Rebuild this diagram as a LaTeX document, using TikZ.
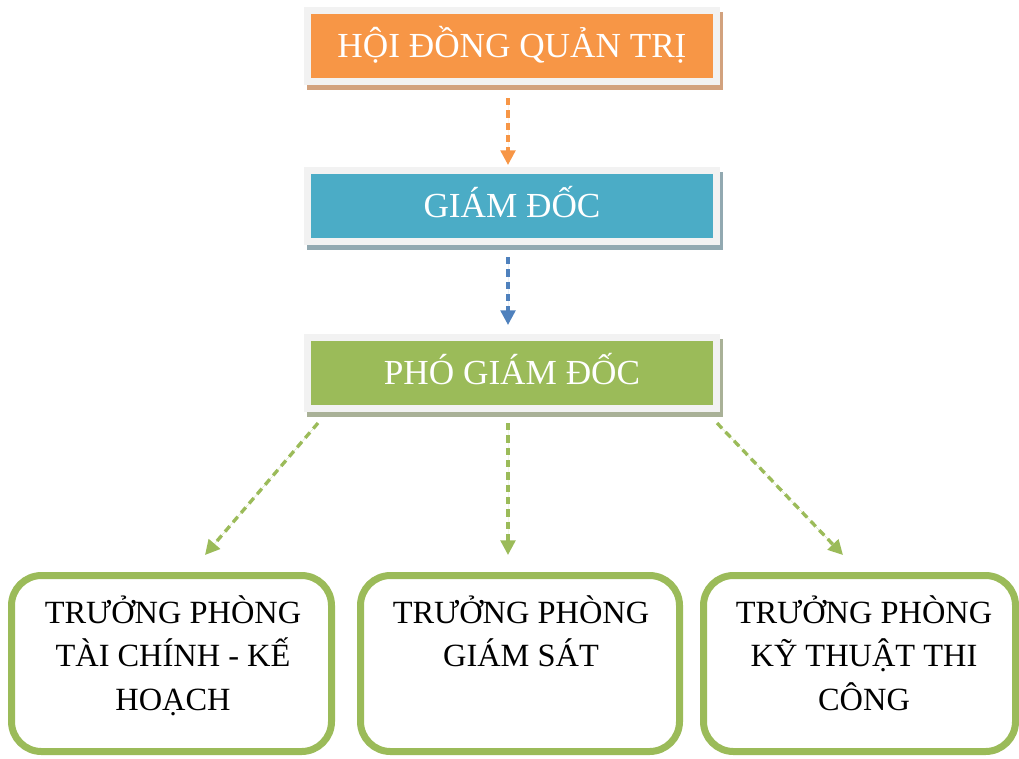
\documentclass[tikz,border=0pt]{standalone}
\usepackage{fontspec}
\setmainfont{Liberation Serif}
\usetikzlibrary{arrows.meta,backgrounds}
\begin{document}
\begin{tikzpicture}[x=0.75pt,y=-0.75pt]
    \definecolor{clo}{HTML}{F79646}
    \definecolor{clb}{HTML}{4BACC6}
    \definecolor{clg}{HTML}{9BBB59}
    \definecolor{cla}{HTML}{4F81BD}
    \definecolor{clf}{HTML}{F2F2F2}
    \definecolor{cso}{HTML}{D2A27E}
    \definecolor{csb}{HTML}{92A9B1}
    \definecolor{csg}{HTML}{A9B197}
    \tikzset{
        topbox/.style={draw=clf, line width=5.6pt, minimum width=306.4pt, minimum height=52.9pt,
            inner sep=0pt, text=white, font=\fontsize{26.4}{31}\selectfont, text height=17.4pt, text depth=0pt},
        deptbox/.style={draw=clg, line width=5.25pt, rounded corners=22.5pt, minimum height=132pt, fill=white},
        depttext/.style={anchor=north, inner sep=0pt, align=center, font=\fontsize{24.3}{32.6}\selectfont},
        dasharrow/.style={line width=2.5pt, dash pattern=on 5.5pt off 3.75pt, -{Triangle[width=11pt,length=11pt]}}
    }
    \useasboundingbox (0,0) rectangle (1019,758);
    % top chain
    \node[topbox, fill=clo] (hdqt) at (512,46)  {HỘI ĐỒNG QUẢN TRỊ};
    \node[topbox, fill=clb] (gd)   at (512,206) {GIÁM ĐỐC};
    \node[topbox, fill=clg] (pgd)  at (512,373) {PHÓ GIÁM ĐỐC};
    \begin{scope}[on background layer]
        \fill[cso] ([shift={(3,5)}]hdqt.north west) rectangle ([shift={(3,5)}]hdqt.south east);
        \fill[csb] ([shift={(3,5)}]gd.north west)   rectangle ([shift={(3,5)}]gd.south east);
        \fill[csg] ([shift={(3,5)}]pgd.north west)  rectangle ([shift={(3,5)}]pgd.south east);
    \end{scope}
    % departments
    \node[deptbox, minimum width=240pt]    (tckh) at (171.5,663.5) {};
    \node[deptbox, minimum width=239.25pt] (gs)   at (520,663.5)   {};
    \node[deptbox, minimum width=234pt]    (ktct) at (859.5,663.5) {};
    \node[depttext] (tckh-t) at (173,595) {TRƯỞNG PHÒNG\\TÀI CHÍNH - KẾ\\HOẠCH};
    \node[depttext] (gs-t)   at (521,595) {TRƯỞNG PHÒNG\\GIÁM SÁT};
    \node[depttext] (ktct-t) at (864,595) {TRƯỞNG PHÒNG\\KỸ THUẬT THI\\CÔNG};
    % arrows
    \draw[dasharrow, draw=clo, fill=clo] ([shift={(-4,13)}]hdqt.south) -- ([shift={(-4,-2)}]gd.north);
    \draw[dasharrow, draw=cla, fill=cla] ([shift={(-4,12)}]gd.south)   -- ([shift={(-4,-9)}]pgd.north);
    \draw[dasharrow, draw=clg, fill=clg] ([shift={(14,11)}]pgd.south west) -- ([shift={(33.5,-17)}]tckh.north);
    \draw[dasharrow, draw=clg, fill=clg] ([shift={(-4,11)}]pgd.south)  -- ([shift={(-12,-17)}]gs.north);
    \draw[dasharrow, draw=clg, fill=clg] ([shift={(-3,11)}]pgd.south east) -- ([shift={(-16.5,-17)}]ktct.north);
\end{tikzpicture}
\end{document}
